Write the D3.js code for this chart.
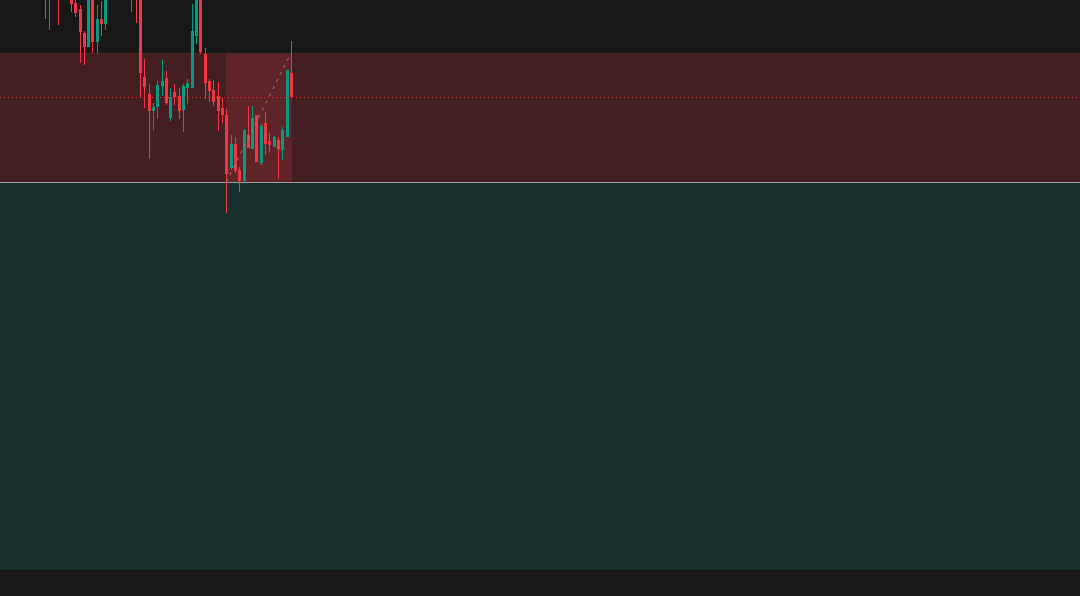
<!DOCTYPE html>
<html>
<head>
<meta charset="utf-8">
<script src="https://cdn.jsdelivr.net/npm/d3@7"></script>
<style>
  html, body { margin: 0; padding: 0; background: #181818; overflow: hidden; }
  svg { display: block; }
</style>
</head>
<body>
<svg id="chart" width="1080" height="596"></svg>
<script>
// OHLC (candle index = bar number from the first visible wick)
const opens  = [2353.0,2350.4,2354.0,2355.0,2351.0,2354.5,2352.0,2349.7,2349.1,2346.7,
                2345.3,2351.2,2345.8,2348.1,2347.6,2351.0,2352.6,2354.2,2353.4,2352.5,
                2354.0,2351.2,2350.5,2342.3,2340.6,2338.9,2339.3,2341.4,2342.2,2338.2,
                2340.8,2340.4,2339.0,2341.2,2341.2,2346.4,2350.6,2344.6,2341.9,2341.0,
                2340.4,2339.2,2338.5,2333.2,2335.6,2333.0,2331.9,2336.5,2335.1,2338.5,
                2333.7,2337.7,2335.9,2335.3,2336.0,2335.0,2336.3,2342.7];
const highs  = [2354.0,2353.5,2354.8,2355.5,2355.5,2355.2,2352.5,2350.2,2349.5,2346.9,
                2351.5,2351.5,2349.5,2349.9,2351.5,2353.0,2354.8,2355.9,2354.6,2355.1,
                2355.0,2352.0,2350.8,2344.1,2341.6,2339.7,2341.9,2344.0,2342.9,2341.2,
                2341.6,2341.2,2341.6,2342.1,2349.6,2351.2,2351.0,2345.2,2342.1,2342.0,
                2341.8,2340.2,2339.1,2336.5,2336.3,2333.3,2337.1,2339.4,2339.4,2338.5,
                2337.6,2338.8,2336.7,2336.4,2336.3,2337.3,2343.0,2345.9];
const lows   = [2348.1,2347.0,2350.8,2347.5,2350.5,2351.2,2348.8,2348.3,2343.7,2343.5,
                2345.3,2344.7,2344.7,2346.4,2347.0,2350.4,2351.8,2352.9,2352.1,2351.7,
                2348.8,2347.7,2340.3,2339.2,2334.1,2337.0,2338.1,2340.4,2339.5,2337.9,
                2339.5,2338.1,2336.8,2339.6,2341.2,2345.6,2344.6,2340.1,2339.8,2339.4,
                2336.9,2337.7,2328.7,2333.0,2332.7,2330.8,2331.9,2335.2,2335.1,2333.8,
                2333.5,2334.5,2334.8,2335.3,2332.1,2334.0,2336.3,2340.3];
const closes = [2350.8,2352.5,2351.5,2351.0,2354.5,2352.0,2349.6,2348.7,2346.8,2345.3,
                2351.0,2345.8,2348.1,2347.6,2351.0,2352.6,2354.2,2353.4,2352.5,2354.6,
                2351.2,2350.4,2342.7,2341.3,2338.9,2339.3,2341.5,2341.9,2339.7,2340.3,
                2340.3,2338.9,2341.4,2341.7,2346.9,2350.5,2344.8,2341.7,2340.9,2339.8,
                2338.9,2338.5,2332.6,2335.6,2332.9,2331.9,2337.0,2335.2,2338.2,2333.8,
                2337.4,2335.6,2335.5,2336.3,2335.1,2337.0,2343.0,2340.3];

// short position tool
const entryPrice  = 2331.8;
const stopPrice   = 2344.7;
const targetPrice = 2293.0;
const posStart = 42;
const posEnd   = 57;

const W = 1080, H = 596;
const candleUp = "#089981", candleDown = "#f23645";

const bars = opens.map((o, i) => ({ i, o, h: highs[i], l: lows[i], c: closes[i] }));

const x = d3.scaleLinear().domain([0, 57]).range([45, 291]);
const y = d3.scaleLinear().domain([2350, 2290.4]).range([0, H]);
const px = i => Math.round(x(i));

const svg = d3.select("#chart");

// background
svg.append("rect").attr("width", W).attr("height", H).attr("fill", "#181818");

// stop zone (above entry) and target zone (below entry), extended across
const yStop = Math.round(y(stopPrice)), yEntry = Math.round(y(entryPrice)), yTarget = Math.round(y(targetPrice));
svg.append("rect")
  .attr("x", 0).attr("y", yStop).attr("width", W).attr("height", yEntry - yStop)
  .attr("fill", "#441f22");
svg.append("rect")
  .attr("x", 0).attr("y", yEntry).attr("width", W).attr("height", yTarget - yEntry)
  .attr("fill", "#18302d");

// highlighted part of the stop zone over the position span
svg.append("rect")
  .attr("x", px(posStart)).attr("y", yStop)
  .attr("width", px(posEnd) - px(posStart) + 1)
  .attr("height", yEntry - yStop)
  .attr("fill", "#5e2428");

svg.append("line")
  .attr("x1", 0).attr("x2", W).attr("y1", yStop + 0.5).attr("y2", yStop + 0.5)
  .attr("stroke", "#512528").attr("stroke-width", 1);

// entry line
svg.append("line")
  .attr("x1", 0).attr("x2", W).attr("y1", yEntry + 0.5).attr("y2", yEntry + 0.5)
  .attr("stroke", "#9e9e9e").attr("stroke-width", 1);

// candles
const g = svg.append("g").attr("shape-rendering", "crispEdges");
g.selectAll("rect.wick")
  .data(bars)
  .join("rect")
  .attr("class", "wick")
  .attr("x", d => px(d.i))
  .attr("y", d => Math.round(y(d.h)))
  .attr("width", 1)
  .attr("height", d => Math.max(1, Math.round(y(d.l)) - Math.round(y(d.h))))
  .attr("fill", d => d.c >= d.o ? candleUp : candleDown);

g.selectAll("rect.body")
  .data(bars)
  .join("rect")
  .attr("class", "body")
  .attr("x", d => px(d.i) - 1)
  .attr("y", d => Math.round(y(Math.max(d.o, d.c))))
  .attr("width", 3)
  .attr("height", d => Math.max(1, Math.round(y(Math.min(d.o, d.c))) - Math.round(y(Math.max(d.o, d.c)))))
  .attr("fill", d => d.c >= d.o ? candleUp : candleDown);

// last price line (dotted, colour of last candle)
const last = bars[bars.length - 1];
svg.append("line")
  .attr("x1", 0).attr("x2", W)
  .attr("y1", Math.round(y(last.c)) + 0.5).attr("y2", Math.round(y(last.c)) + 0.5)
  .attr("stroke", last.c >= last.o ? candleUp : candleDown)
  .attr("stroke-width", 1)
  .attr("stroke-dasharray", "1 3")
  .attr("opacity", 0.85);

// dashed line from entry to the stop level hit
svg.append("line")
  .attr("x1", x(posStart)).attr("y1", y(entryPrice))
  .attr("x2", x(posEnd)).attr("y2", y(stopPrice))
  .attr("stroke", "#8c8c8c")
  .attr("stroke-width", 1)
  .attr("stroke-dasharray", "3 5");
</script>
</body>
</html>
